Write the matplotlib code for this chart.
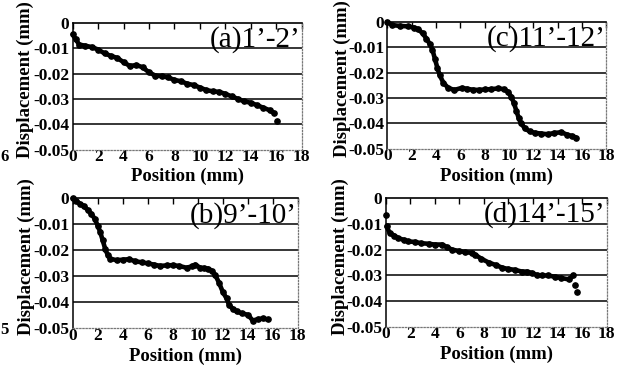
import matplotlib
matplotlib.use("Agg")
import matplotlib.pyplot as plt

plt.rcParams["font.family"] = ["Liberation Serif", "DejaVu Serif"]
plt.rcParams["axes.unicode_minus"] = False

# panel (a) 1'-2'
a_x = [0, 0.25, 0.5, 1.0, 1.5, 2.0, 2.5, 3.0, 3.5, 4.0, 4.5, 5.0, 5.5, 6.0, 6.5, 7.0, 7.5,
       8.0, 8.5, 9.0, 9.5, 10.0, 10.5, 11.0, 11.5, 12.0, 12.5, 13.0, 13.5, 14.0, 14.5,
       15.0, 15.5, 15.8]
a_y = [-0.0045, -0.0065, -0.0085, -0.009, -0.0095, -0.0105, -0.012, -0.013, -0.0138,
       -0.0155, -0.017, -0.0166, -0.0175, -0.0195, -0.0208, -0.021, -0.0215, -0.0225,
       -0.023, -0.024, -0.0245, -0.0255, -0.0265, -0.027, -0.0272, -0.028, -0.029,
       -0.030, -0.031, -0.0315, -0.0325, -0.0335, -0.0345, -0.0355]
a_out_x = [16.1]
a_out_y = [-0.0388]

# panel (b) 9'-10'
b_x = [0, 0.3, 0.6, 0.9, 1.2, 1.5, 1.75, 2.0, 2.2, 2.4, 2.6, 2.8, 3.0, 3.5, 4.0, 4.5,
       5.0, 5.5, 6.0, 6.5, 7.0, 7.5, 8.0, 8.5, 9.1, 9.5, 9.8, 10.2, 10.5, 10.8, 11.1,
       11.4, 11.7, 12.0, 12.3, 12.5, 12.8, 13.1, 13.5, 14.0, 14.4, 14.8, 15.2, 15.6]
b_y = [0, -0.001, -0.0022, -0.003, -0.0045, -0.006, -0.0078, -0.0105, -0.013, -0.0162,
       -0.0195, -0.0218, -0.0232, -0.0238, -0.0236, -0.0234, -0.0242, -0.0246, -0.025,
       -0.0255, -0.026, -0.0258, -0.0257, -0.026, -0.0267, -0.0262, -0.0255, -0.0267,
       -0.0268, -0.027, -0.0278, -0.0295, -0.0325, -0.036, -0.0385, -0.041, -0.0425,
       -0.0435, -0.0442, -0.0448, -0.047, -0.0465, -0.0462, -0.0466]

# panel (c) 11'-12'
c_x = [0, 0.4, 1.0, 1.7, 2.2, 2.5, 2.9, 3.2, 3.5, 3.7, 3.9, 4.1, 4.3, 4.6, 5.0, 5.5,
       6.1, 6.5, 7.0, 7.5, 8.0, 8.5, 9.1, 9.6, 9.9, 10.2, 10.4, 10.6, 10.8, 11.0, 11.3,
       11.7, 12.1, 12.6, 13.2, 13.7, 14.3, 14.8, 15.2, 15.5]
c_y = [0, -0.0012, -0.0015, -0.0017, -0.0022, -0.0027, -0.0045, -0.0065, -0.0088,
       -0.011, -0.0145, -0.018, -0.021, -0.024, -0.026, -0.0268, -0.026, -0.0263,
       -0.0267, -0.0268, -0.0266, -0.0265, -0.0262, -0.0265, -0.0275, -0.0296, -0.032,
       -0.035, -0.038, -0.040, -0.042, -0.0432, -0.0437, -0.044, -0.0443, -0.0438,
       -0.0435, -0.0445, -0.045, -0.0456]

# panel (d) 14'-15'
d_x = [0.08, 0.35, 0.7, 1.0, 1.5, 1.85, 2.4, 2.9, 3.5, 4.0, 4.6, 5.0, 5.4, 6.0, 6.5,
       7.0, 7.3, 7.8, 8.4, 9.0, 9.5, 10.0, 10.5, 11.1, 11.5, 11.9, 12.3, 12.7, 13.2,
       13.8, 14.3, 14.9, 15.3]
d_y = [-0.011, -0.0136, -0.0145, -0.0155, -0.0162, -0.0168, -0.017, -0.0175, -0.0177,
       -0.018, -0.018, -0.019, -0.020, -0.0205, -0.021, -0.0212, -0.022, -0.0235,
       -0.025, -0.026, -0.027, -0.0275, -0.0278, -0.0285, -0.0285, -0.029, -0.0298,
       -0.030, -0.030, -0.0305, -0.031, -0.0315, -0.030]
d_out_x = [0, 15.4, 15.57]
d_out_y = [-0.0066, -0.0338, -0.0364]

x_ticks = [0, 2, 4, 6, 8, 10, 12, 14, 16, 18]
y_ticks = [0, -0.01, -0.02, -0.03, -0.04, -0.05]
y_tick_labels = ["0", "-0.01", "-0.02", "-0.03", "-0.04", "-0.05"]

panels = [
    # rect, x, y, outliers, label
    ([0.116, 0.5915, 0.365, 0.3456], a_x, a_y, (a_out_x, a_out_y), "(a)1\u2019-2\u2019"),
    ([0.116, 0.103, 0.359, 0.355], b_x, b_y, ([], []), "(b)9\u2019-10\u2019"),
    ([0.618, 0.5937, 0.349, 0.346], c_x, c_y, ([], []), "(c)11\u2019-12\u2019"),
    ([0.615, 0.1066, 0.3525, 0.352], d_x, d_y, (d_out_x, d_out_y), "(d)14\u2019-15\u2019"),
]

fig = plt.figure(figsize=(6.27, 3.66), dpi=100)

for rect, xs, ys, (ox, oy), label in panels:
    ax = fig.add_axes(rect)
    ax.plot(xs, ys, color="black", lw=3.3, marker="o", ms=3.8, solid_capstyle="round",
            clip_on=False, zorder=3)
    if ox:
        ax.plot(ox, oy, "o", color="black", ms=3.8, clip_on=False, zorder=3)
    ax.set_xlim(0, 18)
    ax.set_ylim(-0.05, 0)
    ax.set_xticks(x_ticks)
    ax.set_yticks(y_ticks)
    ax.set_yticklabels(y_tick_labels)
    for v in y_ticks[1:-1]:
        ax.axhline(v, color="black", lw=1.1, zorder=1)
    ax.tick_params(axis="x", top=True, bottom=False, direction="in", length=4,
                   width=1, labelsize=12.5, pad=-0.5)
    ax.tick_params(axis="y", length=0, labelsize=12.5, pad=2.5)
    for t in ax.get_xticklabels() + ax.get_yticklabels():
        t.set_fontweight("bold")
    ax.spines["top"].set_color("black")
    ax.spines["top"].set_linewidth(1.2)
    ax.spines["left"].set_color("black")
    ax.spines["left"].set_linewidth(1.1)
    for s in ["bottom", "right"]:
        ax.spines[s].set_color("#777777")
        ax.spines[s].set_linestyle((0, (1, 1.5)))
        ax.spines[s].set_linewidth(0.9)
    ax.set_xlabel("Position (mm)", fontsize=13.5, fontweight="bold")
    ax.xaxis.set_label_coords(0.5, -0.215)
    ax.xaxis.label.set_va("center")
    ax.set_ylabel("Displacement (mm)", fontsize=13.5, fontweight="bold")
    ax.yaxis.set_label_coords(-0.205, 0.55)
    ax.yaxis.label.set_va("center")
    ax.text(0.995, 0.975, label, transform=ax.transAxes, ha="right", va="top",
            fontsize=21, zorder=4)

# tick digits of the neighbouring figure seen at the left edge
fig.text(0.001, 1 - 157 / 366, "6", fontsize=12, fontweight="bold", va="center")
fig.text(0.001, 1 - 330 / 366, "5", fontsize=12, fontweight="bold", va="center")

fig.savefig("out.png", dpi=100)
